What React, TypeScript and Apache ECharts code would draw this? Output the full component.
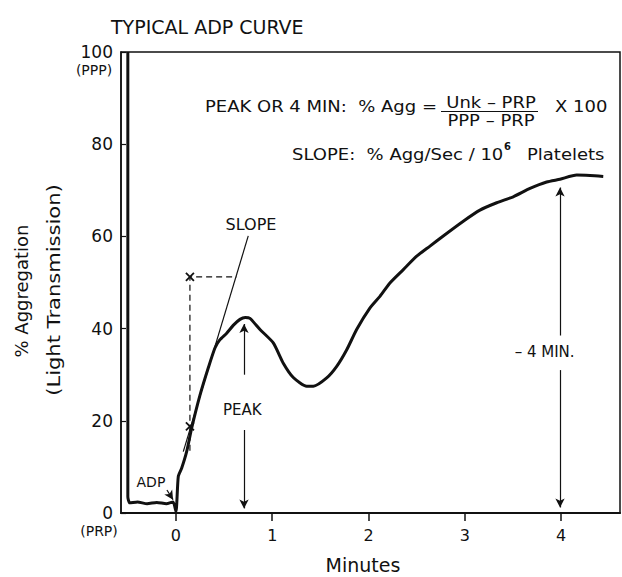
import React, { useEffect, useRef } from "react";
import * as echarts from "echarts";

const curveMinutes = [-0.5, -0.5, -0.48, -0.4, -0.3, -0.2, -0.1, -0.03, 0.0, 0.024, 0.059, 0.111, 0.163, 0.249, 0.336, 0.405, 0.457, 0.527, 0.6, 0.665, 0.72, 0.769, 0.873, 1.011, 1.115, 1.219, 1.358, 1.427, 1.566, 1.67, 1.774, 1.877, 2.016, 2.119, 2.223, 2.362, 2.501, 2.639, 2.777, 2.985, 3.158, 3.332, 3.504, 3.678, 3.851, 3.99, 4.163, 4.301, 4.439];
const curveValues = [100, 3.5, 2.2, 2.4, 2.0, 2.3, 2.0, 2.4, 0.3, 7.9, 9.7, 13.3, 18.4, 25.5, 31.5, 35.8, 37.6, 39.0, 40.8, 42.0, 42.4, 42.2, 39.8, 36.9, 32.5, 29.4, 27.5, 27.5, 29.3, 31.8, 35.4, 39.8, 44.5, 47.0, 49.9, 52.8, 55.7, 57.9, 60.1, 63.3, 65.7, 67.3, 68.6, 70.4, 71.8, 72.4, 73.3, 73.2, 73.0];

const slopeMinutes = [0.076, 0.751];
const slopeValues = [13.3, 60.1];

const dashMinutes = [0.145, 0.145, 0.63];
const dashValues = [13.5, 51.2, 51.2];

const crossMinutes = [0.145, 0.145];
const crossValues = [51.2, 18.8];

const labelMinutes = [0.69, 0.78, -0.26, 3.83];
const labelValues = [22.4, 62.6, 6.7, 35];
const labelTexts = ["PEAK", "SLOPE", "ADP", "\u2013 4 MIN."];
const labelSizes = [15, 16, 14, 15];

const xTicks = [0, 1, 2, 3, 4];
const yTicks = [0, 20, 40, 60, 80, 100];

const peakMinute = 0.707;
const fourMinute = 3.99;

const FONT = "DejaVu Sans";
const INK = "#111";

export default function App() {
  const ref = useRef<HTMLDivElement>(null);
  useEffect(() => {
    if (!ref.current) return;
    const chart = echarts.init(ref.current, null, { renderer: "svg" });
    const curve = curveMinutes.map((m, i) => [m, curveValues[i]]);
    const slope = slopeMinutes.map((m, i) => [m, slopeValues[i]]);
    const dash = dashMinutes.map((m, i) => [m, dashValues[i]]);
    const cross = crossMinutes.map((m, i) => [m, crossValues[i]]);
    const labels = labelMinutes.map((m, i) => ({
      value: [m, labelValues[i]],
      label: { formatter: labelTexts[i], fontSize: labelSizes[i] },
    }));
    const arrowLine = { color: INK, width: 1.2, type: "solid" as const };
    const ts = (size: number) => ({ fontFamily: FONT, fontSize: size, fill: INK });
    const SX = 1.2;
    chart.setOption({
      animation: false,
      backgroundColor: "#fff",
      title: {
        text: "TYPICAL ADP CURVE",
        left: 106,
        top: 12,
        textStyle: { fontFamily: FONT, fontSize: 19, fontWeight: "normal", color: INK },
      },
      grid: {
        left: 121,
        right: 2,
        top: 52,
        bottom: 64,
        show: true,
        borderColor: INK,
        borderWidth: 1.5,
        backgroundColor: "transparent",
      },
      xAxis: {
        type: "value",
        min: -0.571,
        max: 4.613,
        axisLine: { show: true, onZero: false, lineStyle: { color: INK, width: 2 } },
        axisTick: { show: true, customValues: xTicks, length: 8, lineStyle: { color: INK, width: 1.5 } },
        axisLabel: { customValues: xTicks, margin: 14, fontFamily: FONT, fontSize: 16, color: INK },
        splitLine: { show: false },
      },
      yAxis: {
        type: "value",
        min: 0,
        max: 100,
        interval: 20,
        axisLine: { show: true, onZero: false, lineStyle: { color: INK, width: 1.5 } },
        axisTick: { show: true, inside: true, length: 5, lineStyle: { color: INK, width: 1.2 } },
        axisLabel: { margin: 8, fontFamily: FONT, fontSize: 17, color: INK, customValues: yTicks },
        splitLine: { show: false },
      },
      graphic: [
        { type: "text", x: 21, y: 291, rotation: Math.PI / 2, style: { ...ts(18), text: "% Aggregation", align: "center", verticalAlign: "middle" } },
        { type: "text", x: 54, y: 290, rotation: Math.PI / 2, scaleX: 1.17, style: { ...ts(18), text: "(Light Transmission)", align: "center", verticalAlign: "middle" } },
        { type: "text", x: 94, y: 70, style: { ...ts(14), text: "(PPP)", align: "center", verticalAlign: "middle" } },
        { type: "text", x: 99, y: 531, style: { ...ts(14), text: "(PRP)", align: "center", verticalAlign: "middle" } },
        { type: "text", x: 363, y: 565, style: { ...ts(19), text: "Minutes", align: "center", verticalAlign: "middle" } },
        { type: "text", x: 205, y: 107, scaleX: SX, style: { ...ts(15), text: "PEAK OR 4 MIN:  % Agg =", align: "left", verticalAlign: "middle" } },
        { type: "text", x: 491, y: 103, scaleX: SX, style: { ...ts(15), text: "Unk \u2013 PRP", align: "center", verticalAlign: "middle" } },
        { type: "line", shape: { x1: 441, y1: 111.5, x2: 538, y2: 111.5 }, style: { stroke: INK, lineWidth: 1.2 } },
        { type: "text", x: 491, y: 121, scaleX: SX, style: { ...ts(15), text: "PPP \u2013 PRP", align: "center", verticalAlign: "middle" } },
        { type: "text", x: 555, y: 107, scaleX: SX, style: { ...ts(15), text: "X 100", align: "left", verticalAlign: "middle" } },
        { type: "text", x: 292, y: 155, scaleX: SX, style: { ...ts(15), text: "SLOPE:  % Agg/Sec / 10", align: "left", verticalAlign: "middle" } },
        { type: "text", x: 504, y: 146, style: { ...ts(10), text: "6", fontWeight: "bold", align: "left", verticalAlign: "middle" } },
        { type: "text", x: 527, y: 155, scaleX: SX, style: { ...ts(15), text: "Platelets", align: "left", verticalAlign: "middle" } },
      ],
      series: [
        {
          type: "line",
          data: curve,
          smooth: 0.2,
          showSymbol: false,
          lineStyle: { color: INK, width: 3 },
          z: 5,
          markLine: {
            silent: true,
            symbol: ["none", "arrow"],
            symbolSize: [7, 9],
            label: { show: false },
            lineStyle: arrowLine,
            data: [
              [{ coord: [peakMinute, 30] }, { coord: [peakMinute, 41] }],
              [{ coord: [peakMinute, 18] }, { coord: [peakMinute, 1] }],
              [{ coord: [fourMinute, 38.5] }, { coord: [fourMinute, 70.6] }],
              [{ coord: [fourMinute, 31] }, { coord: [fourMinute, 1.2] }],
              [{ coord: [-0.094, 5.0] }, { coord: [-0.03, 2.9] }],
            ],
          },
        },
        {
          type: "line",
          data: slope,
          showSymbol: false,
          lineStyle: { color: INK, width: 1.2 },
          z: 4,
        },
        {
          type: "line",
          data: dash,
          showSymbol: false,
          lineStyle: { color: INK, width: 1.2, type: [6, 4] },
          z: 4,
        },
        {
          type: "scatter",
          data: cross,
          symbol: "path://M0,0L10,10M10,0L0,10",
          symbolSize: 8,
          itemStyle: { color: "none", borderColor: INK, borderWidth: 1.8, opacity: 1 },
          z: 6,
        },
        {
          type: "scatter",
          symbolSize: 0,
          silent: true,
          itemStyle: { opacity: 1 },
          label: {
            show: true,
            position: "inside",
            fontFamily: FONT,
            fontSize: 15,
            color: INK,
          },
          data: labels,
        },
      ],
    });
    return () => chart.dispose();
  }, []);
  return <div ref={ref} style={{ position: "absolute", left: 0, top: 0, width: 622, height: 577 }} />;
}
